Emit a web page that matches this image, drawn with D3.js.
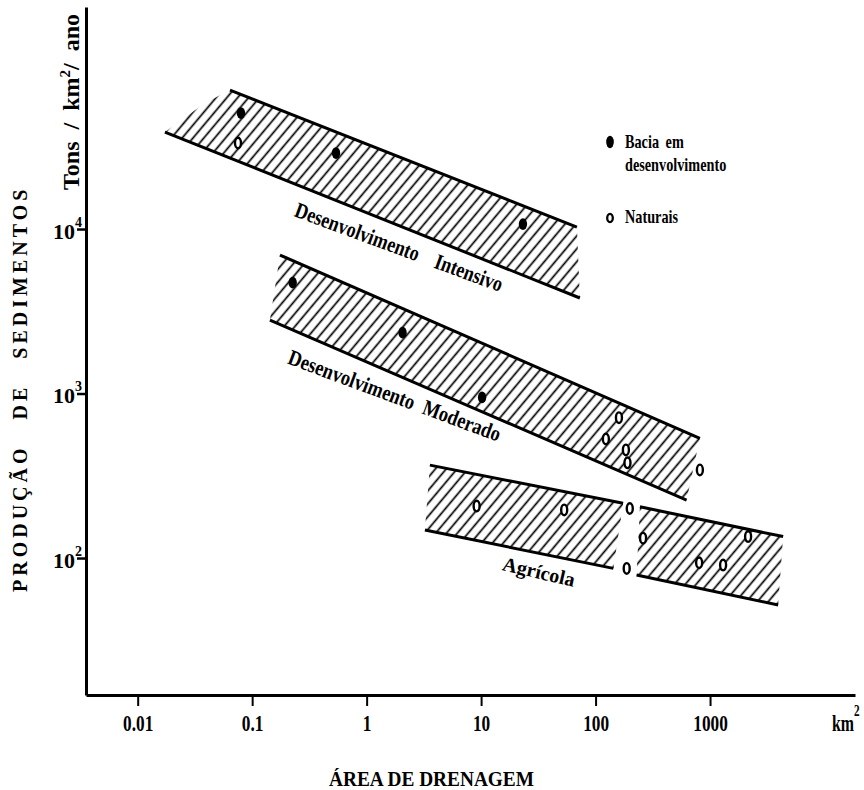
<!DOCTYPE html>
<html>
<head>
<meta charset="utf-8">
<script src="https://cdn.jsdelivr.net/npm/d3@7"></script>
<style>
  body { margin: 0; background: #fff; }
  svg { display: block; background: #fff; }
  text { font-family: "Liberation Serif", "Times New Roman", serif; font-weight: bold; fill: #000; }
</style>
</head>
<body>
<svg id="chart" width="864" height="790"></svg>
<script>
// axis ticks
var areaTicks = [0.01, 0.1, 1, 10, 100, 1000];
var yieldTicks = [100, 1000, 10000];

// basins under development (filled dots)
var areaDev  = [0.0798, 0.54, 23.2, 0.226, 2.06, 10.2];
var yieldDev = [50700, 28970, 10720, 4720, 2343, 948];

// natural basins (open dots)
var areaNat  = [0.0752, 160, 123, 184, 190, 815, 9.14, 53.2, 199, 260, 187, 803, 1300, 2150];
var yieldNat = [33340, 713, 529, 454, 379, 343, 207, 196, 200, 132, 86.5, 93.6, 90.6, 135];

// envelope bands: [area, yield] at both ends of each border line
var intensivoTop         = [[0.064, 69960], [68.7, 10280]];
var intensivoBottom      = [[0.0173, 38870], [72.9, 3808]];
var intensivoTip         = [0.0387, 58300];
var moderadoTop          = [[0.175, 6950], [815, 534]];
var moderadoBottom       = [[0.143, 2798], [624, 225]];
var agricolaLeftTop      = [[3.57, 367], [174, 215]];
var agricolaLeftBottom   = [[3.23, 148], [143, 86.5]];
var agricolaRightTop     = [[244, 205], [4350, 135]];
var agricolaRightBottom  = [[228, 78.9], [3935, 51.8]];

// band names and where their baseline starts
var bandNames  = ["Desenvolvimento Intensivo", "Desenvolvimento Moderado", "Agrícola"];
var nameArea   = [0.2286, 0.2, 15.1];
var nameYield  = [11997, 1526, 84.5];

var svg = d3.select("#chart");
var x = d3.scaleLog().domain([0.003536, 18460]).range([86, 855]);
var y = d3.scaleLog().domain([14.70, 223700]).range([695, 7]);
var line = d3.line().x(function(d) { return x(d[0]); }).y(function(d) { return y(d[1]); });

function init() {
    drawPattern();
    drawBands();
    drawPoints();
    drawAxes();
    drawTitles();
    drawBandNames();
    drawLegend();
}

function drawPattern() {
    var p = svg.append("defs").append("pattern")
        .attr("id", "hatch")
        .attr("patternUnits", "userSpaceOnUse")
        .attr("width", 8.3)
        .attr("height", 10)
        .attr("patternTransform", "rotate(40)");

    p.append("line")
        .attr("x1", 4.15).attr("x2", 4.15)
        .attr("y1", -1).attr("y2", 11)
        .attr("stroke", "#000")
        .attr("stroke-width", 1.7);
}

function drawBand( top, bottom, tip ) {
    var poly = (tip ? [ tip ] : []).concat( top, bottom.slice().reverse() );

    svg.append("path")
        .attr("d", line( poly ) + "Z")
        .attr("fill", "url(#hatch)");

    [ top, bottom ].forEach(function( edge ) {
        svg.append("path")
            .attr("d", line( edge ))
            .attr("fill", "none")
            .attr("stroke", "#000")
            .attr("stroke-width", 3);
    });
}

function drawBands() {
    drawBand( intensivoTop, intensivoBottom, intensivoTip );
    drawBand( moderadoTop, moderadoBottom );
    drawBand( agricolaLeftTop, agricolaLeftBottom );
    drawBand( agricolaRightTop, agricolaRightBottom );
}

function drawPoints() {
    svg.append("g").selectAll("ellipse")
        .data( d3.zip( areaNat, yieldNat ) )
        .join("ellipse")
        .attr("cx", function(d) { return x( d[0] ); })
        .attr("cy", function(d) { return y( d[1] ); })
        .attr("rx", 3)
        .attr("ry", 5.3)
        .attr("fill", "#fff")
        .attr("stroke", "#000")
        .attr("stroke-width", 2.4);

    svg.append("g").selectAll("ellipse")
        .data( d3.zip( areaDev, yieldDev ) )
        .join("ellipse")
        .attr("cx", function(d) { return x( d[0] ); })
        .attr("cy", function(d) { return y( d[1] ); })
        .attr("rx", 4.2)
        .attr("ry", 5.9)
        .attr("fill", "#000");
}

function drawAxes() {
    var gx = svg.append("g")
        .attr("transform", "translate(0,695)")
        .call( d3.axisBottom( x ).tickValues( areaTicks ).tickSizeInner( 11 ).tickSizeOuter( 0 )
            .tickPadding( 8 ).tickFormat(function(d) { return String( d ); }) );

    gx.attr("font-size", 24).attr("font-family", null);
    gx.select(".domain").attr("stroke-width", 3);
    gx.selectAll(".tick line").attr("stroke-width", 2);
    gx.selectAll(".tick text").attr("transform", "scale(0.72,1)");

    var gy = svg.append("g")
        .attr("transform", "translate(86,0)")
        .call( d3.axisLeft( y ).tickValues( yieldTicks ).tickSizeInner( 9 ).tickSizeOuter( 0 )
            .tickPadding( -5 ).tickFormat(function() { return ""; }) );

    gy.attr("font-size", 22).attr("font-family", null);
    gy.select(".domain").attr("stroke-width", 3);
    gy.selectAll(".tick line").attr("stroke-width", 2.5);
    gy.selectAll(".tick text").attr("dy", "0.42em").each(function(d) {
        var t = d3.select( this );
        t.text("10");
        t.append("tspan").attr("dy", -12).attr("font-size", 14).text( Math.round( Math.log10( d ) ) );
    });

    // unit at the end of the x axis
    var unit = svg.append("text")
        .attr("transform", "translate(832,731) scale(0.66,1)")
        .attr("font-size", 24);
    unit.append("tspan").text("km");
    unit.append("tspan").attr("dy", -15).attr("font-size", 17).text("2");
}

function drawTitles() {
    svg.append("text")
        .attr("x", 329).attr("y", 786)
        .attr("font-size", 21)
        .attr("textLength", 205)
        .attr("lengthAdjust", "spacingAndGlyphs")
        .text("ÁREA DE DRENAGEM");

    svg.append("text")
        .attr("transform", "translate(27,592) rotate(-90)")
        .attr("font-size", 20)
        .attr("letter-spacing", 4)
        .attr("word-spacing", 16)
        .text("PRODUÇÃO DE SEDIMENTOS");

    var unit = svg.append("text")
        .attr("transform", "translate(79,190) rotate(-90)")
        .attr("font-size", 24)
        .attr("word-spacing", 6);
    unit.append("tspan").text("Tons / km");
    unit.append("tspan").attr("dy", -9).attr("font-size", 15).text("2");
    unit.append("tspan").attr("dy", 9).text("/ ano");
}

function drawBandNames() {
    var style = [
        { angle: 20.2, len: 220, size: 22, gap: 16 },
        { angle: 20.4, len: 225, size: 22, gap: 6 },
        { angle: 13.1, len: 73.5, size: 20, gap: 0 }
    ];

    bandNames.forEach(function( name, i ) {
        var s = style[ i ];
        svg.append("text")
            .attr("transform", "translate(" + x( nameArea[ i ] ) + "," + y( nameYield[ i ] ) + ") rotate(" + s.angle + ")")
            .attr("font-size", s.size)
            .attr("word-spacing", s.gap)
            .attr("textLength", s.len)
            .attr("lengthAdjust", "spacingAndGlyphs")
            .text( name );
    });
}

function drawLegend() {
    var g = svg.append("g");

    g.append("ellipse")
        .attr("cx", 610).attr("cy", 142)
        .attr("rx", 3.8).attr("ry", 6.2)
        .attr("fill", "#000");

    g.append("ellipse")
        .attr("cx", 610).attr("cy", 218)
        .attr("rx", 2.8).attr("ry", 4.2)
        .attr("fill", "#fff")
        .attr("stroke", "#000")
        .attr("stroke-width", 2.3);

    [ [ "Bacia em", 148 ], [ "desenvolvimento", 171 ], [ "Naturais", 223 ] ].forEach(function( row ) {
        g.append("text")
            .attr("transform", "translate(625," + row[1] + ") scale(0.75,1)")
            .attr("font-size", 19)
            .attr("word-spacing", 4)
            .text( row[0] );
    });
}

init();
</script>
</body>
</html>
